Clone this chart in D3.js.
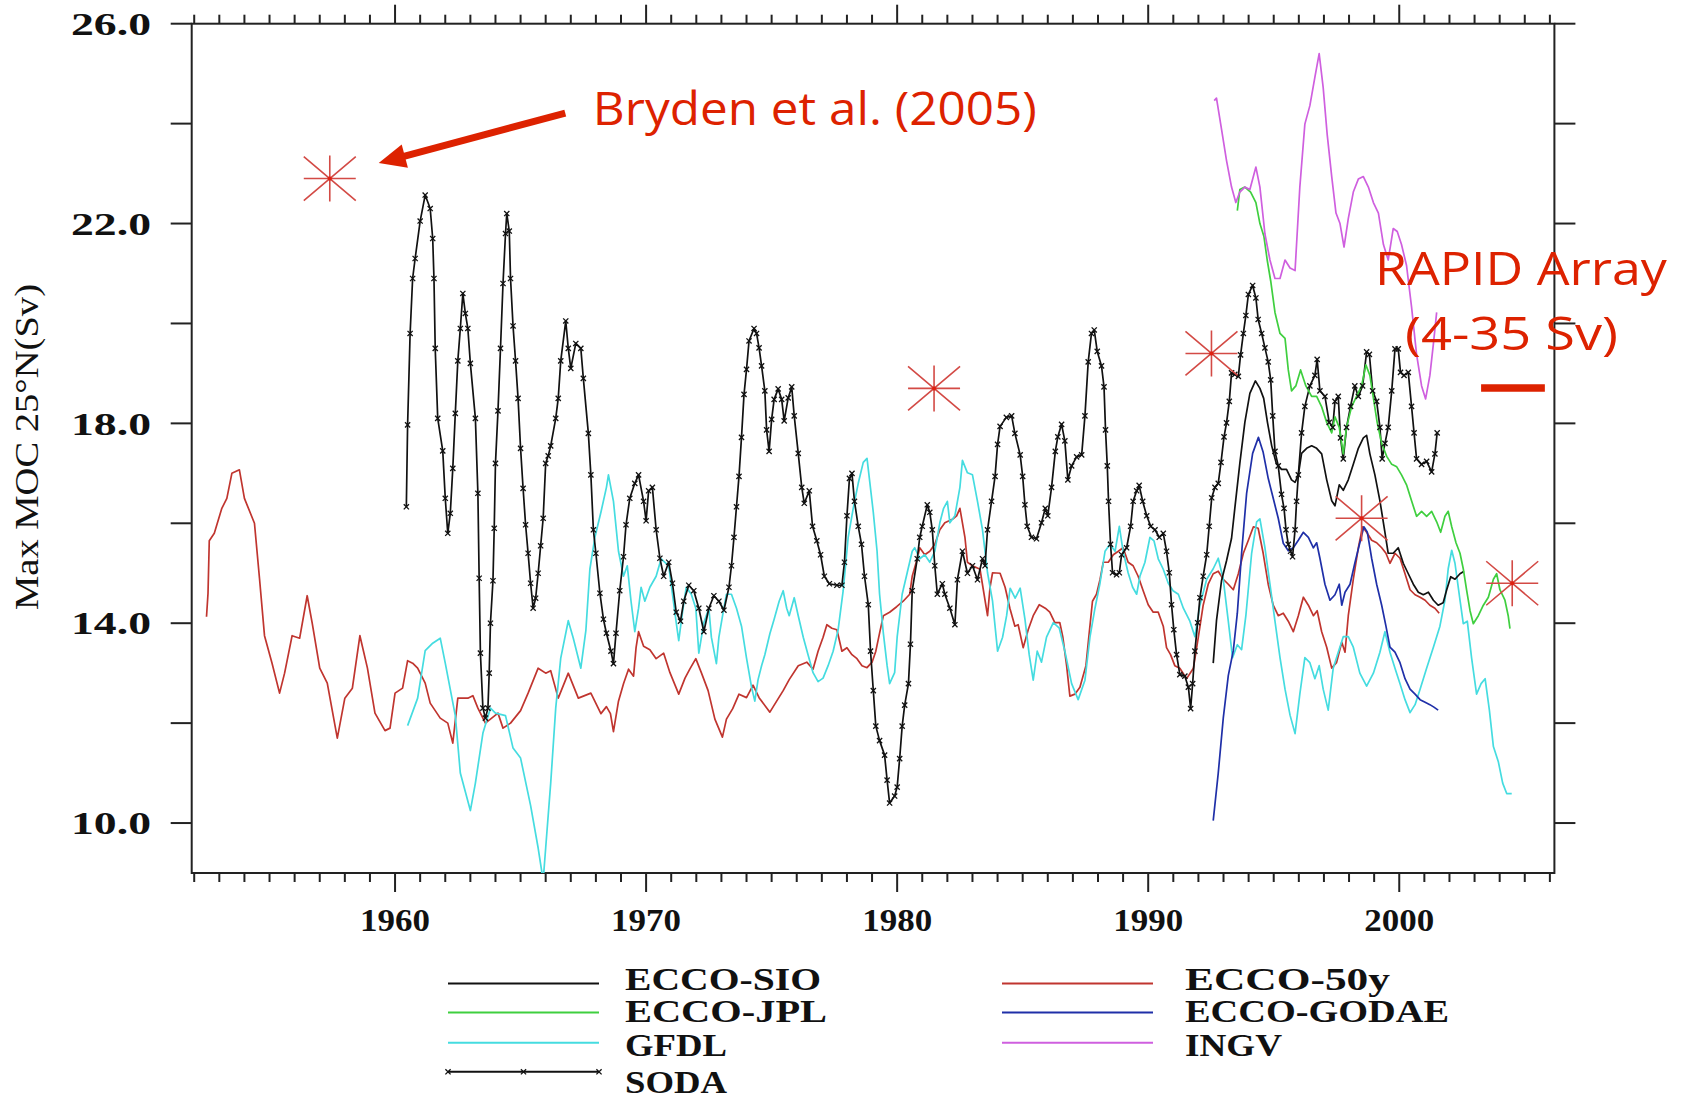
<!DOCTYPE html>
<html>
<head>
<meta charset="utf-8">
<script src="https://d3js.org/d3.v7.min.js"></script>
<style>
  body { margin: 0; background: #fff; }
  svg { display: block; }
</style>
</head>
<body>
<div id="chart"></div>
<script>
// ---- data ----
var xTicksMajor = [1960, 1970, 1980, 1990, 2000];
var yTicksLabelled = [26, 22, 18, 14, 10];

var ecco50y = [[1952.49,14.13],[1952.55,14.6],[1952.6,15.65],[1952.8,15.8],[1953.1,16.3],[1953.3,16.5],[1953.5,17.0],[1953.8,17.07],[1954.0,16.5],[1954.4,16.0],[1954.6,14.9],[1954.8,13.75],[1955.1,13.2],[1955.4,12.6],[1955.6,13.0],[1955.9,13.75],[1956.2,13.7],[1956.5,14.55],[1956.7,14.0],[1957.0,13.1],[1957.3,12.8],[1957.7,11.7],[1958.0,12.5],[1958.3,12.7],[1958.6,13.75],[1958.9,13.1],[1959.2,12.2],[1959.6,11.85],[1959.8,11.9],[1960.0,12.6],[1960.3,12.7],[1960.5,13.25],[1960.7,13.2],[1960.9,13.1],[1961.2,12.8],[1961.4,12.4],[1961.8,12.1],[1962.1,12.0],[1962.3,11.6],[1962.5,12.5],[1962.9,12.5],[1963.1,12.55],[1963.3,12.3],[1963.6,12.0],[1964.1,12.2],[1964.3,11.9],[1964.6,12.0],[1965.0,12.25],[1965.3,12.6],[1965.7,13.1],[1966.0,13.0],[1966.2,13.05],[1966.5,12.5],[1966.9,13.0],[1967.3,12.5],[1967.8,12.6],[1968.2,12.19],[1968.42,12.33],[1968.58,12.19],[1968.7,11.83],[1968.9,12.44],[1969.1,12.79],[1969.3,13.08],[1969.5,12.94],[1969.6,13.51],[1969.7,13.83],[1969.9,13.54],[1970.15,13.47],[1970.4,13.29],[1970.7,13.4],[1970.95,13.01],[1971.3,12.58],[1971.55,12.9],[1971.74,13.08],[1971.98,13.29],[1972.2,13.01],[1972.47,12.65],[1972.74,12.08],[1973.04,11.72],[1973.2,12.08],[1973.45,12.29],[1973.7,12.58],[1974.0,12.51],[1974.26,12.76],[1974.5,12.51],[1974.93,12.22],[1975.2,12.44],[1975.46,12.65],[1975.7,12.87],[1976.06,13.15],[1976.4,13.22],[1976.65,13.08],[1976.85,13.44],[1977.05,13.72],[1977.2,13.97],[1977.4,13.9],[1977.6,13.87],[1977.8,13.44],[1978.0,13.51],[1978.2,13.37],[1978.4,13.29],[1978.6,13.15],[1978.8,13.11],[1979.0,13.22],[1979.15,13.44],[1979.3,13.8],[1979.45,14.15],[1979.7,14.22],[1979.98,14.33],[1980.24,14.44],[1980.5,14.58],[1980.6,14.94],[1980.8,15.29],[1980.9,15.51],[1981.1,15.37],[1981.3,15.44],[1981.5,15.58],[1981.7,15.87],[1981.9,16.01],[1982.2,16.08],[1982.37,16.15],[1982.5,16.3],[1982.7,15.72],[1982.8,15.22],[1983.0,15.15],[1983.3,15.08],[1983.6,14.15],[1983.7,14.72],[1983.8,15.01],[1984.1,15.0],[1984.3,14.72],[1984.49,14.3],[1984.69,13.94],[1984.82,13.97],[1985.02,13.51],[1985.22,13.87],[1985.42,14.15],[1985.66,14.37],[1985.9,14.3],[1986.08,14.22],[1986.28,14.01],[1986.48,14.01],[1986.6,13.72],[1986.75,13.15],[1986.88,12.54],[1987.08,12.58],[1987.28,12.72],[1987.52,13.15],[1987.65,13.8],[1987.78,14.44],[1987.94,14.58],[1988.08,14.87],[1988.21,15.22],[1988.41,15.22],[1988.61,15.37],[1988.81,15.44],[1989.0,15.51],[1989.2,15.22],[1989.4,15.15],[1989.6,14.94],[1989.8,14.65],[1990.0,14.37],[1990.2,14.22],[1990.4,14.22],[1990.6,13.94],[1990.73,13.51],[1990.89,13.37],[1991.06,13.15],[1991.26,13.1],[1991.53,12.89],[1991.8,13.1],[1992.0,13.73],[1992.19,14.36],[1992.39,14.78],[1992.59,14.99],[1992.79,15.04],[1992.99,14.88],[1993.19,14.78],[1993.39,14.67],[1993.59,14.99],[1993.79,15.4],[1993.99,15.66],[1994.19,15.93],[1994.38,15.9],[1994.58,15.4],[1994.78,14.78],[1994.98,14.36],[1995.18,14.15],[1995.38,14.2],[1995.58,14.04],[1995.78,13.83],[1995.98,14.15],[1996.18,14.52],[1996.38,14.36],[1996.58,14.15],[1996.73,14.25],[1996.91,13.83],[1997.11,13.52],[1997.31,13.1],[1997.5,13.21],[1997.71,13.62],[1997.84,13.42],[1997.97,14.15],[1998.17,14.88],[1998.37,15.51],[1998.54,15.93],[1998.7,15.82],[1998.9,15.66],[1999.1,15.61],[1999.3,15.51],[1999.47,15.4],[1999.63,15.2],[1999.83,15.4],[2000.03,15.3],[2000.23,14.99],[2000.43,14.67],[2000.63,14.57],[2000.83,14.52],[2001.03,14.46],[2001.22,14.36],[2001.42,14.3],[2001.59,14.2]];

var gfdl = [[1960.5,11.95],[1960.9,12.5],[1961.2,13.45],[1961.5,13.6],[1961.8,13.7],[1962.0,13.2],[1962.4,12.15],[1962.6,11.0],[1963.0,10.25],[1963.2,10.8],[1963.5,11.8],[1963.8,12.3],[1964.0,12.2],[1964.4,12.15],[1964.7,11.5],[1965.0,11.3],[1965.4,10.35],[1965.7,9.5],[1965.9,8.85],[1966.0,9.5],[1966.2,10.8],[1966.4,12.3],[1966.6,13.3],[1966.9,14.05],[1967.1,13.7],[1967.4,13.1],[1967.6,13.85],[1967.76,15.08],[1967.96,15.72],[1968.2,16.22],[1968.42,16.72],[1968.5,16.97],[1968.7,16.44],[1968.9,15.44],[1969.1,14.94],[1969.25,15.15],[1969.4,14.44],[1969.55,13.83],[1969.7,14.3],[1969.8,14.72],[1969.95,14.44],[1970.15,14.72],[1970.4,14.94],[1970.6,15.29],[1970.9,15.15],[1971.05,14.58],[1971.2,14.01],[1971.3,13.65],[1971.45,14.22],[1971.6,14.72],[1971.8,14.58],[1971.98,14.3],[1972.1,13.4],[1972.3,14.01],[1972.5,14.3],[1972.6,13.72],[1972.8,13.19],[1972.9,13.72],[1973.07,14.22],[1973.2,14.58],[1973.4,14.58],[1973.6,14.3],[1973.8,13.94],[1974.0,13.3],[1974.2,12.72],[1974.33,12.44],[1974.46,12.87],[1974.6,13.15],[1974.73,13.37],[1974.93,13.79],[1975.1,14.08],[1975.3,14.44],[1975.46,14.65],[1975.6,14.3],[1975.7,14.15],[1975.9,14.51],[1976.06,14.15],[1976.26,13.72],[1976.45,13.37],[1976.65,13.01],[1976.85,12.83],[1977.05,12.9],[1977.25,13.15],[1977.45,13.44],[1977.65,13.87],[1977.85,14.65],[1978.05,15.72],[1978.25,16.3],[1978.45,16.8],[1978.65,17.22],[1978.8,17.3],[1978.9,16.87],[1979.05,16.22],[1979.2,15.44],[1979.3,14.58],[1979.45,13.8],[1979.6,13.15],[1979.7,12.79],[1979.9,13.01],[1980.0,13.72],[1980.2,14.58],[1980.4,15.01],[1980.6,15.44],[1980.7,15.51],[1980.9,15.29],[1981.1,15.37],[1981.3,15.22],[1981.5,15.44],[1981.7,16.01],[1981.85,16.3],[1982.0,16.44],[1982.1,16.01],[1982.3,16.15],[1982.5,16.72],[1982.6,17.26],[1982.8,17.01],[1983.0,16.97],[1983.2,16.44],[1983.4,15.87],[1983.6,15.01],[1983.8,14.44],[1984.0,13.44],[1984.2,13.72],[1984.36,14.15],[1984.5,14.7],[1984.7,14.5],[1984.9,14.7],[1985.09,14.08],[1985.26,13.37],[1985.42,12.86],[1985.58,13.44],[1985.75,13.22],[1985.95,13.72],[1986.22,14.01],[1986.46,13.9],[1986.68,13.44],[1986.95,12.79],[1987.21,12.47],[1987.48,12.86],[1987.68,13.72],[1987.88,14.3],[1988.08,14.8],[1988.28,15.44],[1988.48,15.58],[1988.68,15.44],[1988.85,15.94],[1989.0,15.44],[1989.2,15.01],[1989.38,14.72],[1989.54,14.58],[1989.67,14.94],[1989.87,15.22],[1990.07,15.72],[1990.23,15.65],[1990.4,15.29],[1990.6,15.08],[1990.8,14.8],[1990.99,14.65],[1991.2,14.58],[1991.4,14.3],[1991.66,14.04],[1991.86,13.73],[1992.06,14.36],[1992.33,14.88],[1992.59,15.09],[1992.79,15.3],[1992.99,14.88],[1993.19,14.04],[1993.36,13.31],[1993.55,13.57],[1993.72,13.47],[1993.89,14.15],[1994.12,15.4],[1994.32,16.03],[1994.45,16.09],[1994.65,15.51],[1994.85,14.78],[1995.05,14.04],[1995.25,13.31],[1995.45,12.68],[1995.65,12.16],[1995.85,11.79],[1996.04,12.58],[1996.24,13.31],[1996.44,13.21],[1996.64,12.89],[1996.81,13.15],[1996.97,12.68],[1997.17,12.26],[1997.37,13.1],[1997.57,13.42],[1997.77,13.73],[1997.97,13.73],[1998.17,13.52],[1998.43,13.0],[1998.7,12.74],[1998.97,13.0],[1999.23,13.42],[1999.43,13.83],[1999.63,13.42],[1999.83,13.1],[2000.03,12.79],[2000.23,12.47],[2000.43,12.21],[2000.63,12.37],[2000.83,12.68],[2001.09,13.1],[2001.36,13.52],[2001.62,13.94],[2001.82,14.46],[2001.95,15.09],[2002.09,15.46],[2002.22,15.2],[2002.42,14.46],[2002.55,13.99],[2002.71,14.04],[2002.88,13.31],[2003.08,12.58],[2003.26,12.79],[2003.42,12.89],[2003.59,12.26],[2003.75,11.53],[2003.95,11.22],[2004.12,10.8],[2004.28,10.59],[2004.48,10.59]];

var soda = [[1960.45,16.33],[1960.5,17.97],[1960.6,19.8],[1960.7,20.9],[1960.8,21.3],[1961.0,22.05],[1961.2,22.57],[1961.4,22.3],[1961.5,21.7],[1961.55,20.9],[1961.6,19.5],[1961.7,18.1],[1961.9,17.45],[1962.0,16.5],[1962.1,15.8],[1962.2,16.2],[1962.3,17.1],[1962.4,18.2],[1962.5,19.25],[1962.6,19.9],[1962.7,20.6],[1962.8,20.2],[1962.9,19.9],[1963.0,19.2],[1963.2,18.1],[1963.3,16.6],[1963.35,14.9],[1963.4,13.4],[1963.5,12.3],[1963.6,12.1],[1963.7,12.3],[1963.75,13.0],[1963.8,14.0],[1963.9,14.85],[1963.95,15.9],[1964.0,17.2],[1964.1,18.25],[1964.2,19.5],[1964.3,20.8],[1964.4,21.8],[1964.45,22.2],[1964.55,21.85],[1964.6,20.9],[1964.7,19.95],[1964.8,19.25],[1964.9,18.5],[1965.0,17.5],[1965.1,16.7],[1965.2,15.97],[1965.3,15.4],[1965.4,14.8],[1965.5,14.3],[1965.6,14.5],[1965.7,15.0],[1965.8,15.55],[1965.9,16.1],[1966.0,17.2],[1966.1,17.35],[1966.2,17.55],[1966.4,18.1],[1966.5,18.5],[1966.6,19.25],[1966.8,20.05],[1966.9,19.5],[1967.0,19.1],[1967.2,19.6],[1967.4,19.5],[1967.5,18.9],[1967.7,17.8],[1967.8,16.97],[1967.9,15.87],[1968.0,15.4],[1968.16,14.6],[1968.3,14.08],[1968.42,13.8],[1968.6,13.44],[1968.7,13.19],[1968.8,13.8],[1968.95,14.65],[1969.1,15.33],[1969.2,15.97],[1969.35,16.5],[1969.55,16.8],[1969.7,16.97],[1969.9,16.44],[1970.0,16.05],[1970.1,16.65],[1970.25,16.72],[1970.4,15.87],[1970.55,15.3],[1970.7,14.94],[1970.9,15.22],[1971.05,14.8],[1971.2,14.22],[1971.37,14.04],[1971.5,14.44],[1971.7,14.76],[1971.9,14.65],[1972.1,14.3],[1972.3,13.83],[1972.5,14.3],[1972.7,14.55],[1972.9,14.44],[1973.1,14.26],[1973.3,14.72],[1973.4,15.15],[1973.5,15.72],[1973.6,16.33],[1973.7,16.94],[1973.8,17.72],[1973.9,18.58],[1974.0,19.08],[1974.1,19.65],[1974.3,19.9],[1974.4,19.8],[1974.5,19.51],[1974.6,19.15],[1974.73,18.65],[1974.8,17.87],[1974.9,17.44],[1975.0,18.08],[1975.1,18.48],[1975.26,18.69],[1975.4,18.48],[1975.5,18.05],[1975.66,18.51],[1975.8,18.73],[1975.9,18.15],[1976.06,17.4],[1976.2,16.72],[1976.3,16.4],[1976.5,16.65],[1976.63,15.94],[1976.8,15.65],[1976.95,15.37],[1977.1,14.94],[1977.3,14.79],[1977.6,14.76],[1977.8,14.76],[1977.9,15.22],[1978.0,16.15],[1978.1,16.9],[1978.2,17.0],[1978.3,16.44],[1978.45,15.94],[1978.58,15.58],[1978.7,14.94],[1978.85,14.37],[1978.94,13.44],[1979.05,12.65],[1979.15,11.94],[1979.3,11.65],[1979.5,11.36],[1979.6,10.86],[1979.7,10.4],[1979.9,10.54],[1980.0,10.72],[1980.1,11.29],[1980.2,11.94],[1980.3,12.36],[1980.45,12.79],[1980.53,13.58],[1980.6,14.65],[1980.8,15.29],[1980.9,15.72],[1981.0,15.94],[1981.2,16.37],[1981.3,16.22],[1981.4,15.87],[1981.5,15.15],[1981.6,14.58],[1981.8,14.79],[1981.9,14.58],[1982.1,14.3],[1982.3,13.97],[1982.4,14.87],[1982.6,15.44],[1982.8,15.0],[1983.0,15.15],[1983.2,14.87],[1983.4,15.29],[1983.5,15.15],[1983.6,15.87],[1983.76,16.44],[1983.9,16.94],[1984.0,17.58],[1984.1,17.94],[1984.35,18.12],[1984.56,18.15],[1984.69,17.8],[1984.9,17.37],[1985.0,16.94],[1985.09,16.37],[1985.18,15.94],[1985.35,15.72],[1985.55,15.69],[1985.75,16.01],[1985.9,16.3],[1986.0,16.15],[1986.15,16.72],[1986.3,17.44],[1986.4,17.73],[1986.55,17.98],[1986.68,17.65],[1986.8,16.87],[1986.95,17.15],[1987.15,17.33],[1987.35,17.37],[1987.48,18.15],[1987.61,19.23],[1987.74,19.8],[1987.85,19.87],[1987.97,19.44],[1988.14,19.15],[1988.24,18.73],[1988.3,17.87],[1988.37,17.15],[1988.42,16.44],[1988.5,15.58],[1988.58,15.01],[1988.74,14.97],[1988.85,15.01],[1988.94,15.37],[1989.14,15.51],[1989.3,15.94],[1989.4,16.44],[1989.54,16.65],[1989.64,16.76],[1989.78,16.44],[1989.94,16.15],[1990.1,15.94],[1990.27,15.87],[1990.44,15.72],[1990.6,15.8],[1990.73,15.44],[1990.84,15.01],[1990.93,14.37],[1991.02,13.87],[1991.13,13.37],[1991.26,12.97],[1991.46,12.94],[1991.6,12.72],[1991.69,12.29],[1991.77,12.79],[1991.86,13.44],[1991.97,14.01],[1992.06,14.51],[1992.19,14.94],[1992.33,15.37],[1992.43,15.94],[1992.53,16.51],[1992.66,16.72],[1992.79,16.8],[1992.9,17.22],[1993.02,17.73],[1993.12,18.01],[1993.23,18.44],[1993.32,19.01],[1993.45,18.98],[1993.59,18.94],[1993.68,19.37],[1993.79,19.8],[1993.89,20.16],[1993.99,20.58],[1994.16,20.76],[1994.29,20.51],[1994.38,20.08],[1994.52,19.8],[1994.65,19.51],[1994.78,19.23],[1994.88,18.87],[1994.96,18.15],[1995.05,17.44],[1995.18,17.15],[1995.31,16.58],[1995.41,16.3],[1995.49,15.87],[1995.58,15.58],[1995.67,15.44],[1995.75,15.33],[1995.85,15.87],[1995.91,16.44],[1995.98,16.97],[1996.11,17.81],[1996.24,18.34],[1996.44,18.75],[1996.64,18.96],[1996.73,19.28],[1996.84,18.65],[1997.04,18.54],[1997.21,18.02],[1997.35,17.92],[1997.44,18.44],[1997.57,18.54],[1997.66,17.71],[1997.77,17.29],[1997.9,17.92],[1998.06,18.34],[1998.23,18.75],[1998.37,18.54],[1998.54,18.75],[1998.7,19.43],[1998.81,19.38],[1998.94,18.65],[1999.1,18.44],[1999.23,17.92],[1999.32,17.29],[1999.43,17.6],[1999.56,17.92],[1999.7,18.65],[1999.83,19.49],[1999.96,19.49],[2000.05,19.02],[2000.19,18.96],[2000.36,19.02],[2000.49,18.34],[2000.59,17.81],[2000.69,17.29],[2000.89,17.18],[2001.09,17.24],[2001.29,17.03],[2001.42,17.39],[2001.51,17.81]];

var eccoSio = [[1992.59,13.2],[1992.72,14.05],[1992.92,14.85],[1993.12,15.25],[1993.32,15.7],[1993.45,16.3],[1993.65,17.2],[1993.85,18.02],[1994.05,18.6],[1994.27,18.85],[1994.45,18.7],[1994.6,18.5],[1994.75,18.02],[1994.92,17.55],[1995.1,17.2],[1995.31,17.08],[1995.51,17.08],[1995.71,16.87],[1995.85,16.82],[1995.98,16.97],[1996.11,17.4],[1996.31,17.5],[1996.51,17.55],[1996.71,17.5],[1996.91,17.39],[1997.11,16.87],[1997.31,16.45],[1997.44,16.35],[1997.61,16.77],[1997.77,16.66],[1997.97,16.87],[1998.17,17.18],[1998.37,17.5],[1998.57,17.71],[1998.7,17.76],[1998.83,17.39],[1999.03,16.97],[1999.23,16.45],[1999.43,15.82],[1999.56,15.4],[1999.76,15.4],[1999.96,15.51],[2000.16,15.2],[2000.36,14.99],[2000.56,14.78],[2000.76,14.62],[2000.96,14.57],[2001.16,14.62],[2001.36,14.46],[2001.55,14.36],[2001.75,14.41],[2001.89,14.67],[2002.05,14.93],[2002.22,14.88],[2002.42,14.99],[2002.58,15.04]];

var eccoGodae = [[1992.59,10.05],[1992.79,11.0],[1992.99,12.1],[1993.19,12.95],[1993.39,13.45],[1993.55,14.2],[1993.72,15.4],[1993.92,16.6],[1994.16,17.4],[1994.39,17.72],[1994.58,17.42],[1994.78,16.9],[1994.98,16.5],[1995.18,16.1],[1995.38,15.6],[1995.58,15.45],[1995.78,15.51],[1995.98,15.66],[1996.18,15.82],[1996.38,15.72],[1996.58,15.51],[1996.71,15.61],[1996.84,15.3],[1997.04,14.78],[1997.24,14.46],[1997.44,14.57],[1997.61,14.78],[1997.71,14.36],[1997.84,14.62],[1998.04,14.78],[1998.23,15.2],[1998.43,15.61],[1998.59,15.93],[1998.73,15.82],[1998.9,15.3],[1999.1,14.78],[1999.3,14.36],[1999.47,13.94],[1999.63,13.52],[1999.83,13.42],[2000.03,13.21],[2000.23,12.89],[2000.43,12.68],[2000.63,12.58],[2000.83,12.47],[2001.03,12.42],[2001.22,12.37],[2001.38,12.32],[2001.55,12.26]];

var eccoJpl = [[1993.55,22.26],[1993.65,22.68],[1993.85,22.73],[1994.08,22.63],[1994.29,22.42],[1994.45,22.0],[1994.61,21.74],[1994.74,21.27],[1994.88,20.85],[1995.05,20.22],[1995.25,19.8],[1995.45,19.7],[1995.58,19.07],[1995.71,18.65],[1995.88,18.75],[1996.07,19.07],[1996.28,18.75],[1996.51,18.54],[1996.71,18.54],[1996.91,18.33],[1997.11,18.02],[1997.31,17.81],[1997.44,18.13],[1997.61,17.92],[1997.77,17.39],[1997.9,17.92],[1998.1,18.33],[1998.3,18.54],[1998.5,18.75],[1998.67,19.17],[1998.83,18.96],[1998.96,18.54],[1999.12,18.02],[1999.3,17.6],[1999.5,17.34],[1999.7,17.18],[1999.9,17.13],[2000.09,16.97],[2000.29,16.77],[2000.49,16.45],[2000.69,16.14],[2000.89,16.24],[2001.09,16.14],[2001.29,16.24],[2001.49,16.03],[2001.65,15.82],[2001.82,16.14],[2001.95,16.24],[2002.09,15.93],[2002.26,15.61],[2002.42,15.4],[2002.55,15.09],[2002.68,14.67],[2002.82,14.25],[2002.95,13.99],[2003.15,14.15],[2003.35,14.36],[2003.55,14.52],[2003.75,14.88],[2003.88,14.99],[2004.01,14.67],[2004.21,14.46],[2004.34,14.15],[2004.41,13.89]];

var ingv = [[1992.63,24.46],[1992.72,24.51],[1992.92,23.89],[1993.12,23.26],[1993.32,22.73],[1993.49,22.42],[1993.65,22.63],[1993.85,22.73],[1994.05,22.68],[1994.29,23.13],[1994.45,22.73],[1994.65,21.79],[1994.85,21.27],[1995.05,20.9],[1995.25,20.9],[1995.45,21.27],[1995.65,21.11],[1995.85,21.06],[1996.04,22.73],[1996.24,23.99],[1996.44,24.36],[1996.64,24.93],[1996.81,25.4],[1996.97,24.72],[1997.13,23.78],[1997.31,22.94],[1997.48,22.21],[1997.64,22.0],[1997.8,21.53],[1997.97,22.1],[1998.17,22.63],[1998.37,22.89],[1998.57,22.94],[1998.77,22.73],[1998.97,22.42],[1999.17,22.21],[1999.37,21.58],[1999.56,21.27],[1999.76,21.9],[1999.92,21.84],[2000.09,21.58],[2000.29,21.16],[2000.49,20.33],[2000.69,19.38],[2000.89,18.75],[2001.05,18.49],[2001.22,18.96],[2001.36,19.59],[2001.49,20.22]];

// Bryden et al. (2005) hydrographic estimates and the RAPID value
var brydenYears = [1957.4, 1981.47, 1992.52, 1998.5, 2004.5];
var brydenValues = [22.9, 18.7, 19.4, 16.1, 14.8];
var rapidYears = [2003.26, 2005.8];
var rapidValue = 18.71;

var seriesNames = ["ECCO-SIO", "ECCO-JPL", "GFDL", "SODA", "ECCO-50y", "ECCO-GODAE", "INGV"];

// ---- layout ----
var width = 1689, height = 1100;
var x = d3.scaleLinear().domain([1951.9, 2006.18]).range([191.7, 1554.4]);
var y = d3.scaleLinear().domain([9, 26]).range([873, 23.7]);

var svg = d3.select("#chart").append("svg")
    .attr("width", width)
    .attr("height", height);

var axisColor = "#222";
var serif = "'Liberation Serif', 'DejaVu Serif', serif";

// clip to the plot box
svg.append("clipPath").attr("id", "plotclip")
    .append("rect")
    .attr("x", x.range()[0]).attr("y", y.range()[1])
    .attr("width", x.range()[1] - x.range()[0])
    .attr("height", y.range()[0] - y.range()[1]);

// ---- frame and ticks ----
var frame = svg.append("g");
frame.append("rect")
    .attr("x", x.range()[0]).attr("y", y.range()[1])
    .attr("width", x.range()[1] - x.range()[0])
    .attr("height", y.range()[0] - y.range()[1])
    .attr("fill", "none").attr("stroke", axisColor).attr("stroke-width", 2);

var years = d3.range(1952, 2007);
years.forEach(function (yr) {
    var major = yr % 10 === 0;
    var len = major ? 19 : 9;
    // bottom ticks (down), top ticks (up)
    frame.append("line")
        .attr("x1", x(yr)).attr("x2", x(yr))
        .attr("y1", y(9)).attr("y2", y(9) + len)
        .attr("stroke", axisColor).attr("stroke-width", 2);
    frame.append("line")
        .attr("x1", x(yr)).attr("x2", x(yr))
        .attr("y1", y(26)).attr("y2", y(26) - len)
        .attr("stroke", axisColor).attr("stroke-width", 2);
});

d3.range(10, 27, 2).forEach(function (v) {
    frame.append("line")
        .attr("x1", x.range()[0] - 21).attr("x2", x.range()[0])
        .attr("y1", y(v)).attr("y2", y(v))
        .attr("stroke", axisColor).attr("stroke-width", 2);
    frame.append("line")
        .attr("x1", x.range()[1]).attr("x2", x.range()[1] + 21)
        .attr("y1", y(v)).attr("y2", y(v))
        .attr("stroke", axisColor).attr("stroke-width", 2);
});

// tick labels
frame.selectAll(".ylab").data(yTicksLabelled).enter()
    .append("text")
    .attr("x", 151).attr("y", function (d) { return y(d); })
    .attr("dy", "0.36em")
    .attr("text-anchor", "end")
    .attr("font-family", serif).attr("font-weight", "bold")
    .attr("font-size", 31)
    .attr("textLength", 80).attr("lengthAdjust", "spacingAndGlyphs")
    .attr("fill", "#111")
    .text(function (d) { return d.toFixed(1); });

frame.selectAll(".xlab").data(xTicksMajor).enter()
    .append("text")
    .attr("x", function (d) { return x(d) - 35; })
    .attr("y", 931)
    .attr("font-family", serif).attr("font-weight", "bold")
    .attr("font-size", 31)
    .attr("textLength", 70).attr("lengthAdjust", "spacingAndGlyphs")
    .attr("fill", "#111")
    .text(function (d) { return d; });

// y-axis title
svg.append("text")
    .attr("transform", "translate(38," + 447 + ") rotate(-90)")
    .attr("text-anchor", "middle")
    .attr("font-family", serif)
    .attr("font-size", 34)
    .attr("textLength", 326).attr("lengthAdjust", "spacingAndGlyphs")
    .attr("fill", "#111")
    .text("Max MOC 25°N(Sv)");

// ---- series ----
var line = d3.line()
    .x(function (d) { return x(d[0]); })
    .y(function (d) { return y(d[1]); });

var plot = svg.append("g").attr("clip-path", "url(#plotclip)");

var colors = {
    "ECCO-SIO": "#111111",
    "ECCO-JPL": "#3fcf3f",
    "GFDL": "#45dce0",
    "SODA": "#111111",
    "ECCO-50y": "#c0352f",
    "ECCO-GODAE": "#1f2fa8",
    "INGV": "#cf5fdf"
};

var drawOrder = [
    ["ECCO-50y", ecco50y],
    ["GFDL", gfdl],
    ["ECCO-GODAE", eccoGodae],
    ["ECCO-SIO", eccoSio],
    ["SODA", soda],
    ["ECCO-JPL", eccoJpl],
    ["INGV", ingv]
];

drawOrder.forEach(function (s) {
    plot.append("path")
        .datum(s[1])
        .attr("d", line)
        .attr("fill", "none")
        .attr("stroke", colors[s[0]])
        .attr("stroke-width", 1.7)
        .attr("stroke-linejoin", "round");
});

// SODA markers
var cross = "M-2.6,-2.6L2.6,2.6M-2.6,2.6L2.6,-2.6";
plot.selectAll(".sodamark").data(soda).enter()
    .append("path")
    .attr("transform", function (d) { return "translate(" + x(d[0]) + "," + y(d[1]) + ")"; })
    .attr("d", cross)
    .attr("stroke", "#111").attr("stroke-width", 1.3).attr("fill", "none");

// ---- Bryden asterisks ----
var star = "M-26,0L26,0M0,-23L0,23M-26,-22L26,22M-26,22L26,-22";
svg.selectAll(".star").data(brydenYears).enter()
    .append("path")
    .attr("transform", function (d, i) { return "translate(" + x(d) + "," + y(brydenValues[i]) + ")"; })
    .attr("d", star)
    .attr("stroke", "#d34a45").attr("stroke-width", 1.6).attr("fill", "none");
svg.selectAll(".starc").data(brydenYears).enter()
    .append("circle")
    .attr("cx", function (d) { return x(d); })
    .attr("cy", function (d, i) { return y(brydenValues[i]); })
    .attr("r", 2).attr("fill", "#e02010");

// RAPID bar
svg.append("line")
    .attr("x1", x(rapidYears[0])).attr("x2", x(rapidYears[1]))
    .attr("y1", y(rapidValue)).attr("y2", y(rapidValue))
    .attr("stroke", "#dd2200").attr("stroke-width", 7.5);

// ---- annotations ----
var annoRed = "#dd2200";
var annoFont = "'Comic Sans MS', 'Open Sans', 'Noto Sans', sans-serif";

svg.append("text")
    .attr("x", x(1967.88)).attr("y", y(23.97))
    .attr("font-family", annoFont).attr("font-size", 45)
    .attr("textLength", 444).attr("lengthAdjust", "spacingAndGlyphs")
    .attr("fill", annoRed)
    .text("Bryden et al. (2005)");

svg.append("text")
    .attr("x", x(1999.03)).attr("y", y(20.77))
    .attr("font-family", annoFont).attr("font-size", 45)
    .attr("textLength", 292).attr("lengthAdjust", "spacingAndGlyphs")
    .attr("fill", annoRed)
    .text("RAPID Array");

svg.append("text")
    .attr("x", x(2000.23)).attr("y", y(19.47))
    .attr("font-family", annoFont).attr("font-size", 45)
    .attr("textLength", 213).attr("lengthAdjust", "spacingAndGlyphs")
    .attr("fill", annoRed)
    .text("(4-35 Sv)");

// arrow pointing at the 1957 estimate
var tail = [x(1966.78), y(24.21)], tip = [x(1959.35), y(23.21)];
var dx = tip[0] - tail[0], dy = tip[1] - tail[1];
var len = Math.sqrt(dx * dx + dy * dy);
var ux = dx / len, uy = dy / len, nx = -uy, ny = ux;
var headLen = 27, headHalf = 12;
var base = [tip[0] - ux * headLen, tip[1] - uy * headLen];
svg.append("line")
    .attr("x1", tail[0]).attr("y1", tail[1])
    .attr("x2", base[0] + ux * 2).attr("y2", base[1] + uy * 2)
    .attr("stroke", annoRed).attr("stroke-width", 7);
svg.append("path")
    .attr("d", "M" + tip[0] + "," + tip[1] +
        "L" + (base[0] + nx * headHalf) + "," + (base[1] + ny * headHalf) +
        "L" + (base[0] - nx * headHalf) + "," + (base[1] - ny * headHalf) + "Z")
    .attr("fill", annoRed);

// ---- legend ----
var legend = svg.append("g");
var legendItems = [
    { name: "ECCO-SIO", col: 0, row: 0, w: 196 },
    { name: "ECCO-JPL", col: 0, row: 1, w: 202 },
    { name: "GFDL", col: 0, row: 2, w: 102 },
    { name: "SODA", col: 0, row: 3, w: 102 },
    { name: "ECCO-50y", col: 1, row: 0, w: 205 },
    { name: "ECCO-GODAE", col: 1, row: 1, w: 264 },
    { name: "INGV", col: 1, row: 2, w: 97 }
];
var colX = [448, 1002], lineW = 151, labelX = [625, 1185];
var lineY = [983.5, 1012.6, 1042.7, 1071.8];
var textY = [990, 1022, 1056, 1093];

legendItems.forEach(function (it) {
    var x0 = colX[it.col];
    legend.append("line")
        .attr("x1", x0).attr("x2", x0 + lineW)
        .attr("y1", lineY[it.row]).attr("y2", lineY[it.row])
        .attr("stroke", colors[it.name]).attr("stroke-width", 2);
    if (it.name === "SODA") {
        [0, 0.5, 1].forEach(function (f) {
            legend.append("path")
                .attr("transform", "translate(" + (x0 + f * lineW) + "," + lineY[it.row] + ")")
                .attr("d", cross)
                .attr("stroke", "#111").attr("stroke-width", 1.3);
        });
    }
    legend.append("text")
        .attr("x", labelX[it.col]).attr("y", textY[it.row])
        .attr("font-family", serif).attr("font-weight", "bold")
        .attr("font-size", 31)
        .attr("textLength", it.w).attr("lengthAdjust", "spacingAndGlyphs")
        .attr("fill", "#111")
        .text(it.name);
});
</script>
</body>
</html>
